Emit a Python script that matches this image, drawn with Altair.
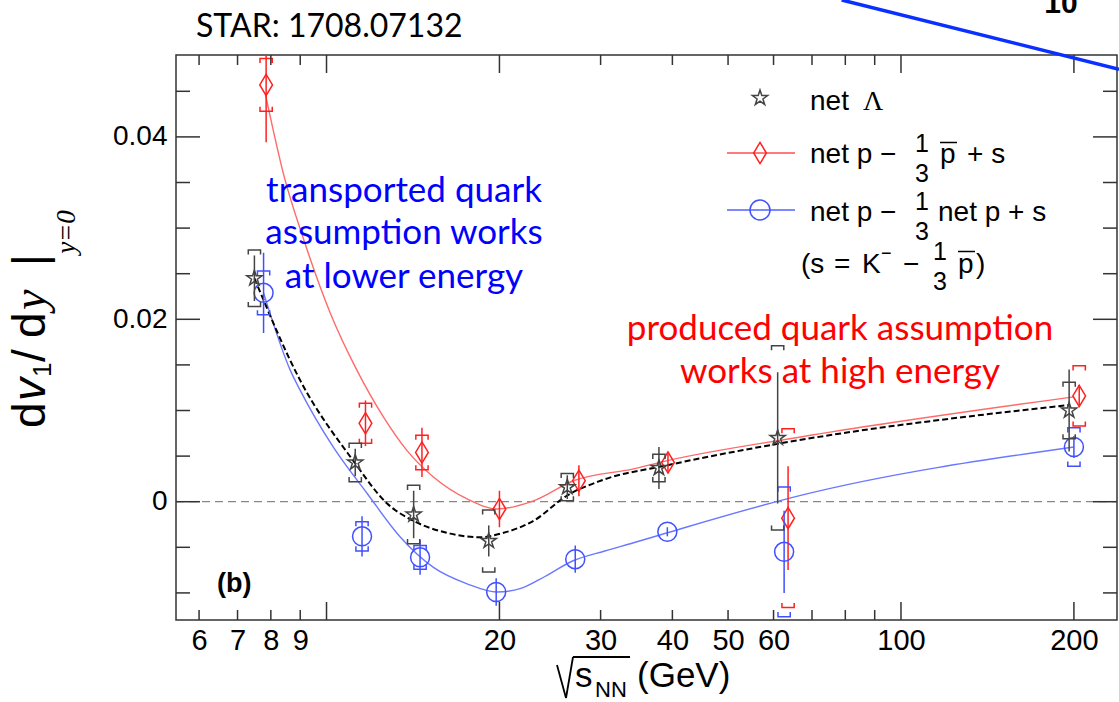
import altair as alt
import pandas as pd

# ---------------- data ----------------
lam_x = [7.49, 11.22, 14.18, 19.16, 26.25, 37.9, 61.0, 196.2]
lam_y = [0.0245, 0.0043, -0.0014, -0.0043, 0.0016, 0.0037, 0.0070, 0.0100]
lam_stat = [0.0025, 0.0015, 0.0026, 0.0017, 0.0013, 0.0023, 0.0072, 0.0045]
lam_sys = [0.0031, 0.0021, 0.0032, 0.0034, 0.0015, 0.0015, 0.0101, 0.0031]

red_x = [7.85, 11.69, 14.66, 20.0, 27.5, 39.3, 63.6, 204.3]
red_y = [0.0457, 0.0086, 0.0054, -0.0008, 0.0023, 0.0043, -0.0018, 0.0116]
red_stat = [0.0063, 0.0025, 0.0027, 0.0020, 0.0017, 0.0010, 0.0057, 0.0012]
red_sys = [0.0029, 0.0022, 0.0019, 0.0, 0.0, 0.0, 0.0098, 0.0033]

blue_x = [7.77, 11.53, 14.55, 19.74, 27.1, 39.2, 62.6, 200.0]
blue_y = [0.0229, -0.0038, -0.0061, -0.0099, -0.0063, -0.0033, -0.0055, 0.0060]
blue_stat = [0.0044, 0.0022, 0.0019, 0.0015, 0.0015, 0.0005, 0.0045, 0.0012]
blue_sys = [0.0024, 0.0016, 0.0013, 0.0, 0.0, 0.0, 0.0071, 0.0021]

red_fit_x = [7.82, 8.45, 9.12, 10.15, 11.30, 12.56, 13.81, 15.35, 17.57, 19.82, 22.92, 26.92, 34.24, 39.2, 66.9, 200.0]
red_fit_y = [0.0448, 0.0355, 0.0288, 0.0207, 0.0144, 0.0093, 0.0056, 0.0027, 0.0003, -0.0008, 0.0001, 0.0023, 0.0036, 0.0045, 0.0071, 0.0115]

blue_fit_x = [7.77, 8.65, 9.0, 10.27, 11.77, 13.45, 15.35, 17.57, 19.82, 21.8, 24.0, 26.8, 30.5, 34.24, 39.2, 66.9, 200.0]
blue_fit_y = [0.0229, 0.0144, 0.0122, 0.0060, 0.0009, -0.0039, -0.0072, -0.0090, -0.0099, -0.0095, -0.0082, -0.0065, -0.0054, -0.0045, -0.0034, 0.0007, 0.0060]

lam_fit_x = [7.49, 9.0, 11.13, 12.75, 14.17, 16.43, 18.53, 20.08, 22.92, 26.27, 29.99, 39.2, 61.7, 196.0]
lam_fit_y = [0.0245, 0.0133, 0.0045, -0.0002, -0.0021, -0.0035, -0.0039, -0.0035, -0.0021, 0.0007, 0.0023, 0.0040, 0.0064, 0.0106]

x_labels = [6, 7, 8, 9, 20, 30, 40, 50, 60, 100, 200]
x_major = [10, 20, 100, 200]
x_minor = [6, 7, 8, 9, 30, 40, 50, 60, 70, 80, 90]
y_labels = [0, 0.02, 0.04]
y_major = [0, 0.02, 0.04]
y_minor = [-0.01, -0.005, 0.005, 0.01, 0.015, 0.025, 0.03, 0.035, 0.045]

# ---------------- layout ----------------
L, T = 176, 55
W, H = 941, 565

xs = alt.Scale(type="log", domain=[5.47, 237.7], nice=False)
ys = alt.Scale(domain=[-0.01297, 0.04898], nice=False, zero=False)

XAXIS = alt.Axis(values=x_labels, title=None, ticks=False, tickSize=0, domain=False, grid=False,
                 labelFont="Liberation Sans", labelFontSize=29, labelColor="black",
                 labelPadding=6, labelOverlap=False, labelFlush=False, format="~g")
YAXIS = alt.Axis(values=y_labels, title=None, ticks=False, tickSize=0, domain=False, grid=False,
                 labelFont="Liberation Sans", labelFontSize=28, labelColor="black",
                 labelPadding=9, labelOverlap=False, labelFlush=False, format="~g")


def X(f):
    return alt.X(f, scale=xs, axis=XAXIS)


def Y(f):
    return alt.Y(f, scale=ys, axis=YAXIS)


one = pd.DataFrame({"k": [0]})

STAR = ("M0,-1L0.2245,-0.309L0.951,-0.309L0.363,0.118L0.588,0.809L0,0.382"
        "L-0.588,0.809L-0.363,0.118L-0.951,-0.309L-0.2245,-0.309Z")
DIAM = "M0,-1L0.6,0L0,1L-0.6,0Z"
BR_TOP = "M-1,0.75L-1,0L1,0L1,0.75"
BR_BOT = "M-1,-0.75L-1,0L1,0L1,-0.75"


def txt(s, x, y, size, color="black", font="Liberation Sans", weight="normal",
        align="left", angle=0, style="normal"):
    return alt.Chart(one).mark_text(text=s, fontSize=size, color=color, font=font,
                                    fontWeight=weight, align=align, angle=angle,
                                    fontStyle=style, baseline="alphabetic").encode(
        x=alt.value(x - L), y=alt.value(y - T))


def pline(x1, y1, x2, y2, color, width):
    return alt.Chart(one).mark_rule(color=color, strokeWidth=width).encode(
        x=alt.value(x1 - L), y=alt.value(y1 - T), x2=alt.value(x2 - L), y2=alt.value(y2 - T))


def psym(shape, x, y, size, color):
    return alt.Chart(one).mark_point(shape=shape, size=size, color=color, filled=False,
                                     strokeWidth=1.5, opacity=1).encode(
        x=alt.value(x - L), y=alt.value(y - T))


def series(x, y, stat, sys, color, shape, size):
    df = pd.DataFrame({"x": x, "y": y, "stat": stat, "sys": sys})
    base = alt.Chart(df).transform_calculate(
        lo="datum.y - datum.stat", hi="datum.y + datum.stat",
        top="datum.y + datum.sys", bot="datum.y - datum.sys")
    stat_l = base.mark_rule(color=color, strokeWidth=1.5, clip=True).encode(
        x=X("x:Q"), y=Y("lo:Q"), y2="hi:Q")
    br = base.transform_filter("datum.sys > 0")
    top_l = br.mark_point(shape=BR_TOP, size=150, color=color, filled=False,
                          strokeWidth=1.5, opacity=1).encode(x=X("x:Q"), y=Y("top:Q"))
    bot_l = br.mark_point(shape=BR_BOT, size=150, color=color, filled=False,
                          strokeWidth=1.5, opacity=1).encode(x=X("x:Q"), y=Y("bot:Q"))
    pts = base.mark_point(shape=shape, size=size, color=color, filled=False,
                          strokeWidth=1.5, opacity=1).encode(x=X("x:Q"), y=Y("y:Q"))
    return [stat_l, top_l, bot_l, pts]


def curve(x, y, color, width, dash=None):
    kw = dict(color=color, strokeWidth=width, interpolate="monotone")
    if dash:
        kw["strokeDash"] = dash
    return alt.Chart(pd.DataFrame({"x": x, "y": y})).mark_line(**kw).encode(
        x=X("x:Q"), y=Y("y:Q"))


RED = "#ff2020"
BLUE = "#4050ff"
GREY = "#444444"
TICK = "#333333"

layers = []

# zero line
layers.append(alt.Chart(pd.DataFrame({"v": [0.0]})).mark_rule(
    color="#888888", strokeWidth=1.3, strokeDash=[8, 5]).encode(
    y=Y("v:Q"), x=alt.value(0), x2=alt.value(W)))

# fitted curves
layers.append(curve(red_fit_x, red_fit_y, "#ff6a6a", 1.4))
layers.append(curve(blue_fit_x, blue_fit_y, "#6a78ff", 1.4))
layers.append(curve(lam_fit_x, lam_fit_y, "black", 2.0, [6, 3]))

# data points
layers += series(red_x, red_y, red_stat, red_sys, RED, DIAM, 450)
layers += series(blue_x, blue_y, blue_stat, blue_sys, BLUE, "circle", 361)
layers += series(lam_x, lam_y, lam_stat, lam_sys, GREY, STAR, 256)

# tick marks (inward, on all four sides)
xmaj = pd.DataFrame({"v": x_major})
xmin = pd.DataFrame({"v": x_minor})
ymaj = pd.DataFrame({"v": y_major})
ymin = pd.DataFrame({"v": y_minor})
for d, ln in ((xmaj, 18), (xmin, 10)):
    layers.append(alt.Chart(d).mark_rule(color=TICK, strokeWidth=1.5).encode(
        x=X("v:Q"), y=alt.value(H), y2=alt.value(H - ln)))
    layers.append(alt.Chart(d).mark_rule(color=TICK, strokeWidth=1.5).encode(
        x=X("v:Q"), y=alt.value(0), y2=alt.value(ln)))
for d, ln in ((ymaj, 24), (ymin, 14)):
    layers.append(alt.Chart(d).mark_rule(color=TICK, strokeWidth=1.5).encode(
        y=Y("v:Q"), x=alt.value(0), x2=alt.value(ln)))
    layers.append(alt.Chart(d).mark_rule(color=TICK, strokeWidth=1.5).encode(
        y=Y("v:Q"), x=alt.value(W - ln), x2=alt.value(W)))

# legend
layers.append(psym(STAR, 760, 98, 256, GREY))
layers.append(txt("net", 810, 110, 28))
layers.append(txt("Λ", 863, 110, 28, font="Liberation Serif"))

layers.append(pline(727, 153, 795, 153, "#ff5050", 1.5))
layers.append(psym(DIAM, 760, 153, 450, RED))
layers.append(txt("net p −", 810, 163, 28))
layers.append(txt("1", 922, 152, 25, align="center"))
layers.append(txt("3", 922, 182, 25, align="center"))
layers.append(txt("p", 940, 163, 28))
layers.append(pline(940, 142.5, 957, 142.5, "black", 1.5))
layers.append(txt("+ s", 967, 163, 28))

layers.append(pline(727, 210, 795, 210, "#5060ff", 1.5))
layers.append(psym("circle", 760, 210, 400, BLUE))
layers.append(txt("net p −", 810, 221, 28))
layers.append(txt("1", 922, 210, 25, align="center"))
layers.append(txt("3", 922, 240, 25, align="center"))
layers.append(txt("net p + s", 938, 221, 28))

layers.append(txt("(s", 801, 273, 28))
layers.append(txt("=", 834, 273, 28))
layers.append(txt("K", 862, 273, 28))
layers.append(txt("−", 881, 259, 18))
layers.append(txt("−", 903, 273, 28))
layers.append(txt("1", 940, 260, 25, align="center"))
layers.append(txt("3", 940, 290, 25, align="center"))
layers.append(txt("p", 958, 273, 28))
layers.append(pline(958, 251.5, 975, 251.5, "black", 1.5))
layers.append(txt(")", 976, 273, 28))

# annotations
ANN = "Lato"
layers.append(txt("transported quark", 404, 202, 35, color="#0000ff", font=ANN, align="center"))
layers.append(txt("assumption works", 404, 244, 35, color="#0000ff", font=ANN, align="center"))
layers.append(txt("at lower energy", 404, 288, 35, color="#0000ff", font=ANN, align="center"))
layers.append(txt("produced quark assumption", 840, 340, 35, color="#ff0000", font=ANN, align="center"))
layers.append(txt("works at high energy", 840, 383, 35, color="#ff0000", font=ANN, align="center"))
layers.append(txt("STAR: 1708.07132", 196, 37, 32, font=ANN))
layers.append(txt("(b)", 217, 592, 27, weight="bold"))

# y-axis title, rotated pieces
layers.append(txt("d", 45, 428, 46, angle=270))
layers.append(txt("v", 45, 401, 46, angle=270, style="italic"))
layers.append(txt("1", 51, 377, 26, angle=270))
layers.append(txt("/", 45, 362, 46, angle=270))
layers.append(txt("d", 45, 338, 46, angle=270))
layers.append(txt("y", 45, 310, 46, angle=270, font="Liberation Serif", style="italic"))
layers.append(txt("|", 45, 266, 46, angle=270))
layers.append(txt("y=0", 75, 232, 27, font="Liberation Serif", style="italic", align="center", angle=270))

# x-axis title
layers.append(pline(557, 665, 566, 698, "black", 1.8))
layers.append(pline(566, 698, 573, 657, "black", 1.8))
layers.append(pline(573, 657, 630, 657, "black", 1.8))
layers.append(txt("s", 575, 687, 35))
layers.append(txt("NN", 595, 697, 22))
layers.append(txt("(GeV)", 637, 687, 35))

# slide decoration at top right
layers.append(pline(841.7, 0, 1119, 69.3, "#0a30ff", 3.5))
layers.append(txt("10", 1061, 13, 30, weight="bold", align="center"))

chart = alt.layer(*layers).properties(
    width=W, height=H,
    padding={"left": L, "top": T, "right": 1119 - L - W, "bottom": 702 - T - H},
    autosize=alt.AutoSizeParams(type="none"),
    background="white",
).configure_view(stroke="#333333", strokeWidth=1.5)

chart.save("out.html", embed_options={"renderer": "svg", "actions": False})
